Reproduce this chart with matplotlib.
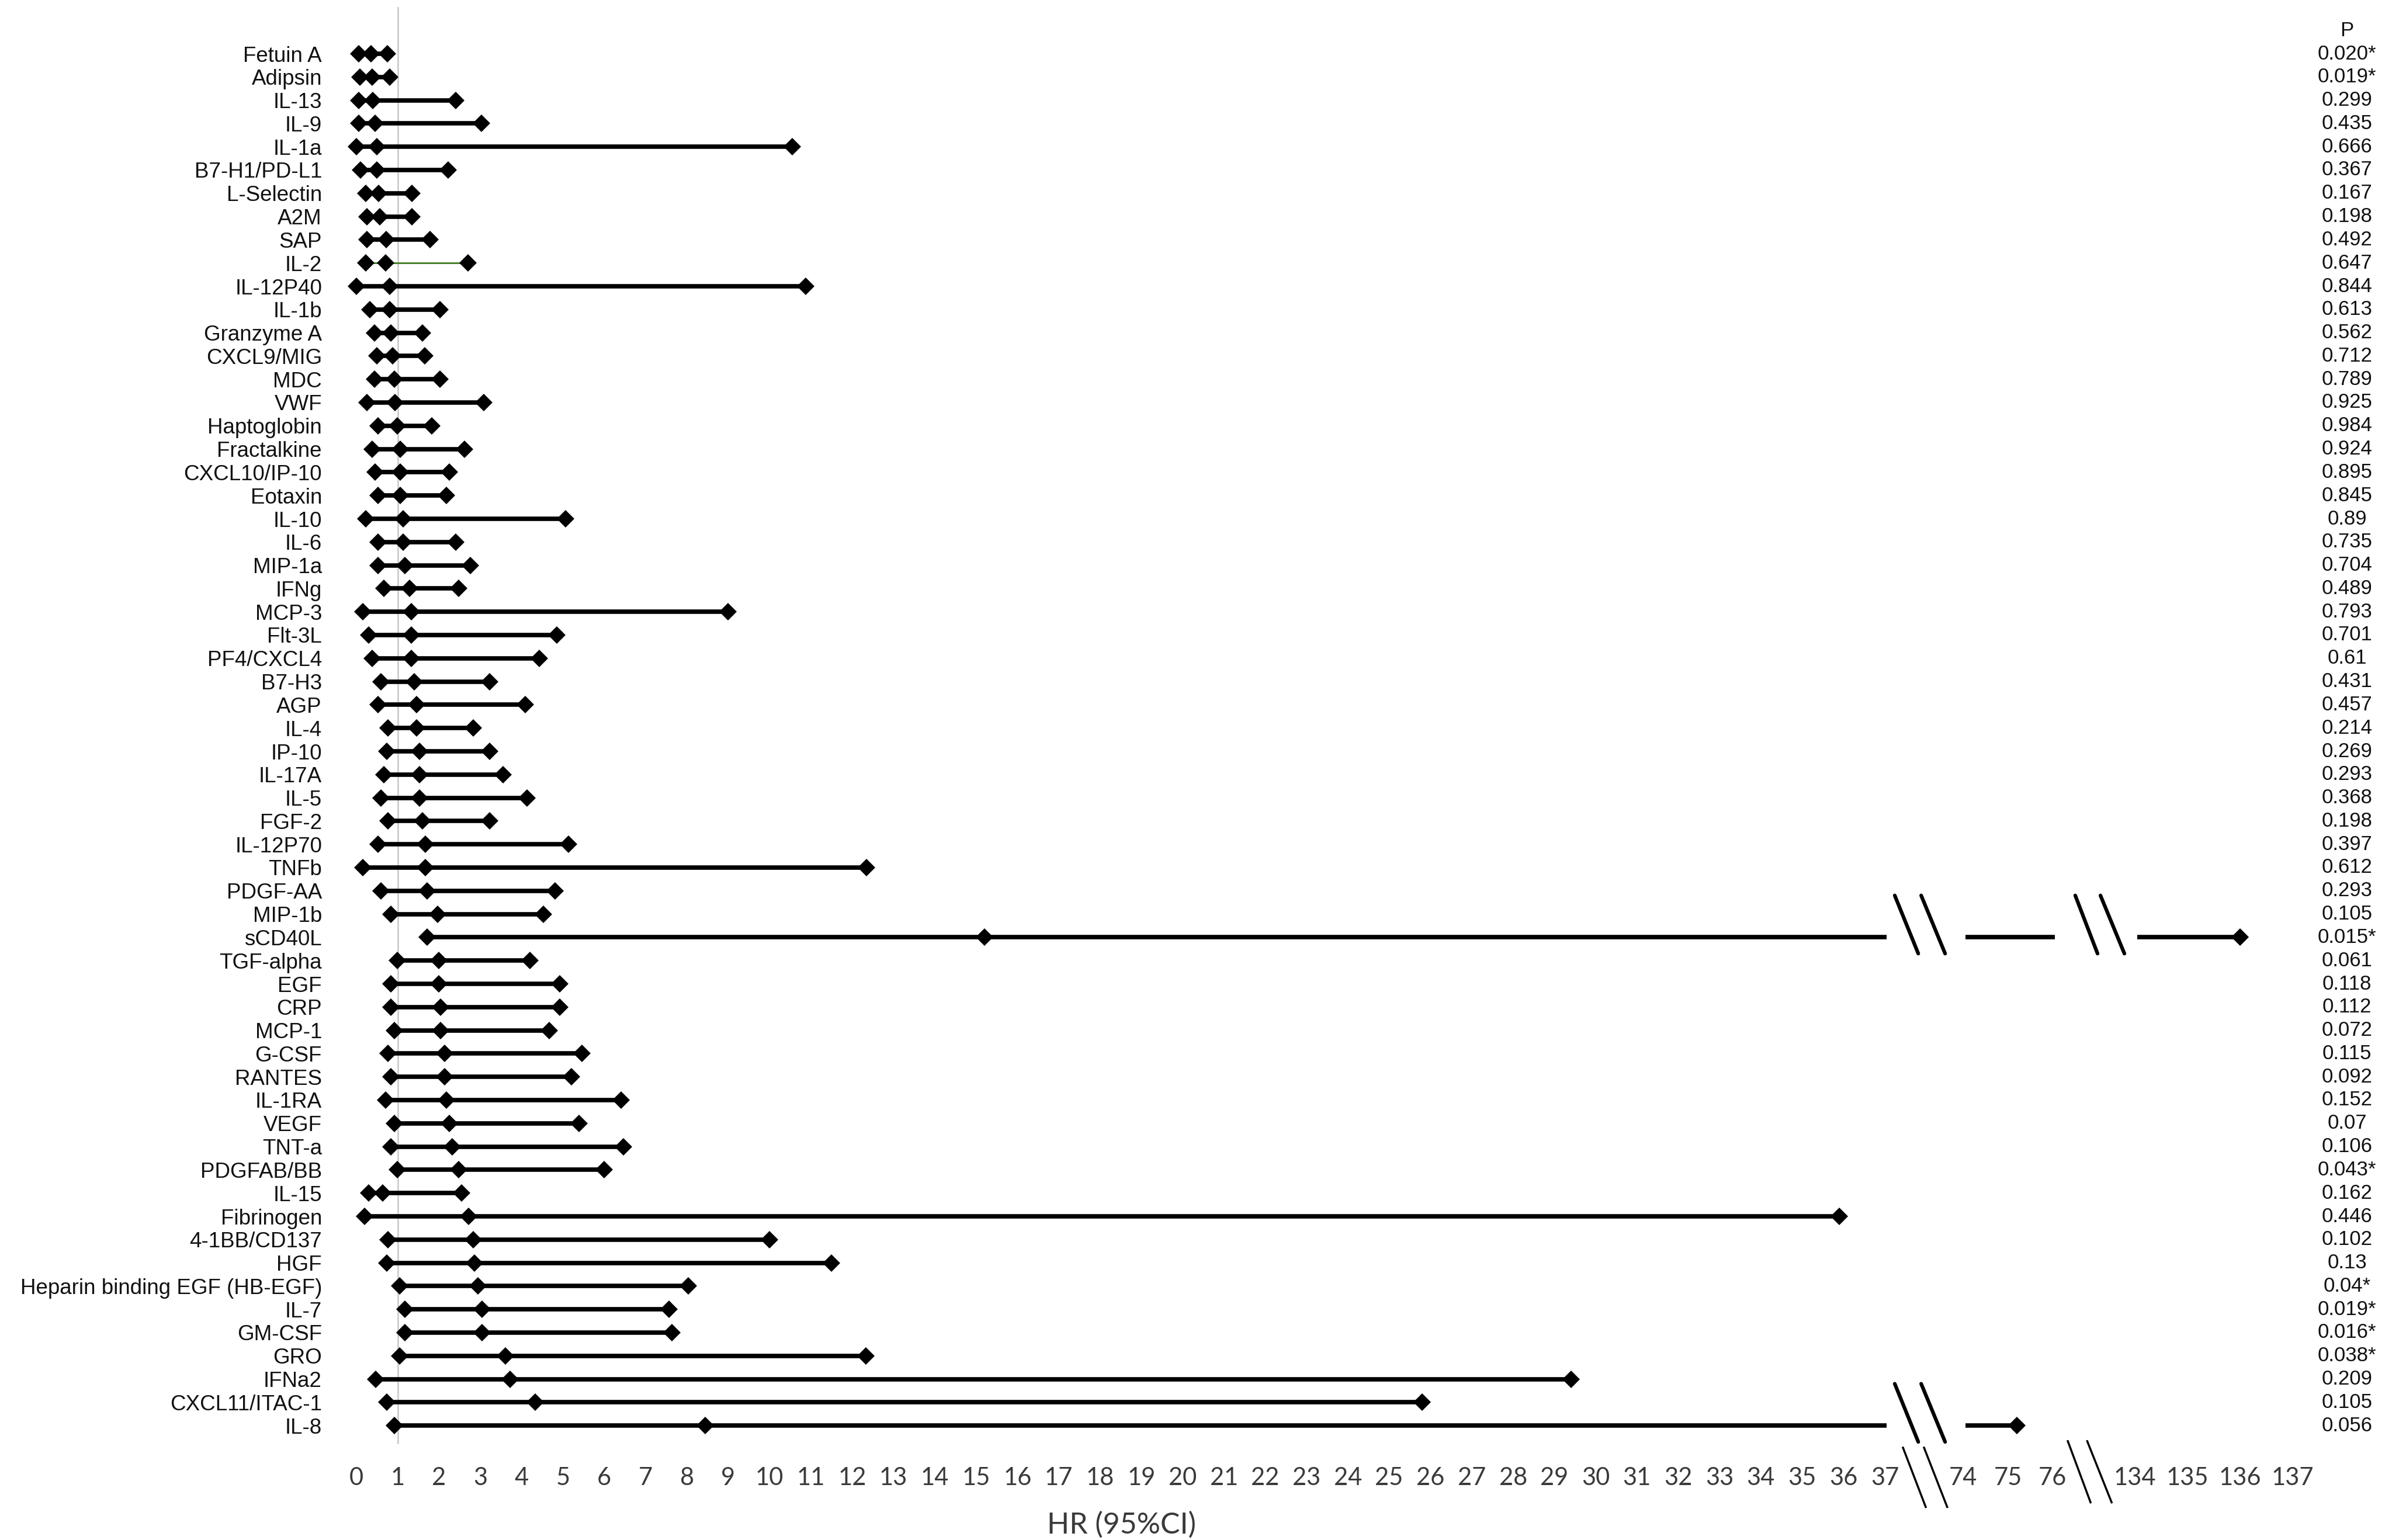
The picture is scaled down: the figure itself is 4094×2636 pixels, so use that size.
import numpy as np
import matplotlib
matplotlib.use("Agg")
import matplotlib.pyplot as plt
from matplotlib.transforms import blended_transform_factory

# markers, top to bottom
markers = ["Fetuin A", "Adipsin", "IL-13", "IL-9", "IL-1a", "B7-H1/PD-L1", "L-Selectin",
           "A2M", "SAP", "IL-2", "IL-12P40", "IL-1b", "Granzyme A", "CXCL9/MIG", "MDC",
           "VWF", "Haptoglobin", "Fractalkine", "CXCL10/IP-10", "Eotaxin", "IL-10", "IL-6",
           "MIP-1a", "IFNg", "MCP-3", "Flt-3L", "PF4/CXCL4", "B7-H3", "AGP", "IL-4", "IP-10",
           "IL-17A", "IL-5", "FGF-2", "IL-12P70", "TNFb", "PDGF-AA", "MIP-1b", "sCD40L",
           "TGF-alpha", "EGF", "CRP", "MCP-1", "G-CSF", "RANTES", "IL-1RA", "VEGF", "TNT-a",
           "PDGFAB/BB", "IL-15", "Fibrinogen", "4-1BB/CD137", "HGF",
           "Heparin binding EGF (HB-EGF)", "IL-7", "GM-CSF", "GRO", "IFNa2", "CXCL11/ITAC-1",
           "IL-8"]

hr_low = [0.05, 0.08, 0.06, 0.06, 0.0, 0.1, 0.22, 0.25, 0.25, 0.22, 0.0, 0.33, 0.44, 0.5,
          0.44, 0.25, 0.52, 0.38, 0.45, 0.52, 0.23, 0.52, 0.52, 0.66, 0.16, 0.3, 0.38, 0.59,
          0.52, 0.77, 0.74, 0.66, 0.59, 0.77, 0.52, 0.16, 0.59, 0.84, 1.71, 0.99, 0.84, 0.84,
          0.92, 0.77, 0.84, 0.7, 0.92, 0.84, 0.99, 0.3, 0.2, 0.77, 0.74, 1.04, 1.18, 1.18,
          1.04, 0.47, 0.74, 0.92]
hr_mid = [0.35, 0.38, 0.39, 0.45, 0.5, 0.5, 0.54, 0.56, 0.72, 0.7, 0.81, 0.81, 0.83, 0.87,
          0.92, 0.94, 0.99, 1.06, 1.06, 1.06, 1.13, 1.13, 1.18, 1.28, 1.33, 1.33, 1.33, 1.4,
          1.46, 1.46, 1.53, 1.53, 1.53, 1.6, 1.67, 1.67, 1.71, 1.96, 15.2, 2.0, 2.0, 2.03,
          2.03, 2.14, 2.14, 2.18, 2.25, 2.32, 2.47, 0.63, 2.72, 2.83, 2.86, 2.94, 3.04, 3.04,
          3.6, 3.72, 4.33, 8.45]
hr_high = [0.75, 0.8, 2.41, 3.03, 10.55, 2.22, 1.35, 1.35, 1.78, 2.7, 10.87, 2.02, 1.6,
           1.65, 2.02, 3.08, 1.82, 2.61, 2.25, 2.18, 5.07, 2.4, 2.76, 2.47, 9.0, 4.85, 4.42,
           3.23, 4.09, 2.83, 3.23, 3.55, 4.13, 3.23, 5.14, 12.35, 4.81, 4.52, 136.0, 4.2,
           4.92, 4.92, 4.67, 5.46, 5.21, 6.4, 5.39, 6.47, 6.0, 2.54, 35.9, 10.0, 11.5, 8.04,
           7.57, 7.64, 12.33, 29.4, 25.8, 75.2]
p_values = ["0.020*", "0.019*", "0.299", "0.435", "0.666", "0.367", "0.167", "0.198",
            "0.492", "0.647", "0.844", "0.613", "0.562", "0.712", "0.789", "0.925", "0.984",
            "0.924", "0.895", "0.845", "0.89", "0.735", "0.704", "0.489", "0.793", "0.701",
            "0.61", "0.431", "0.457", "0.214", "0.269", "0.293", "0.368", "0.198", "0.397",
            "0.612", "0.293", "0.105", "0.015*", "0.061", "0.118", "0.112", "0.072", "0.115",
            "0.092", "0.152", "0.07", "0.106", "0.043*", "0.162", "0.446", "0.102", "0.13",
            "0.04*", "0.019*", "0.016*", "0.038*", "0.209", "0.105", "0.056"]

x_ticks = list(range(38)) + [74, 75, 76, 134, 135, 136, 137]

# broken x axis: HR value -> plot position (1 unit per HR up to 37)
axis_hr = [-5, 37.3, 73.5, 76.6, 133.6, 140]
axis_pos = [-5, 37.3, 38.36, 41.71, 42.54, 50.69]
visible = [(-5, 37.05), (74.05, 76.05), (134.05, 140)]


def fwd(x):
    return np.interp(x, axis_hr, axis_pos)


def inv(p):
    return np.interp(p, axis_pos, axis_hr)


W, H = 4094, 2636
fig = plt.figure(figsize=(W / 100, H / 100), dpi=100)
ax = fig.add_axes([551 / W, (H - 2480) / H, 3488 / W, (2480 - 12.4) / H])
ax.set_xscale("function", functions=(fwd, inv))

ax.axvline(1, ymin=0.004, ymax=1, color="#cccccc", lw=2, zorder=1)

for i in range(len(markers)):
    lo, mid, hi = hr_low[i], hr_mid[i], hr_high[i]
    col, lw = "black", 5.5
    if markers[i] == "IL-2":
        col, lw = "#3f7a22", 2.0
    for a, b in visible:
        s, e = max(lo, a), min(hi, b)
        if e > s:
            ax.plot([s, e], [i, i], color=col, lw=lw, solid_capstyle="butt", zorder=2)
    ax.plot([lo, mid, hi], [i, i, i], "D", ms=15, mew=0, color="black", zorder=3)

    # break marks on rows running past the cut
    cuts = []
    if hi > visible[0][1]:
        cuts += [(37.24, 37.81), (37.88, 38.46)]
    if hi > visible[1][1]:
        cuts += [(41.61, 42.15), (42.22, 42.80)]
    for p0, p1 in cuts:
        ax.plot(inv([p0, p1]), [i - 1.8, i + 0.7], color="black", lw=4.5, zorder=3,
                solid_capstyle="round")

# break marks on the axis
for p0, p1, y0, y1 in [(37.44, 37.99, 59.95, 62.5), (37.95, 38.51, 59.95, 62.5),
                       (41.43, 41.98, 59.67, 62.3), (41.90, 42.49, 59.67, 62.3)]:
    ax.plot(inv([p0, p1]), [y0, y1], color="black", lw=2.5, clip_on=False, zorder=3)

ax.set_xlim(inv(-0.835), inv(48.5))
ax.set_ylim(60.0, -2.0)

ax.set_yticks(range(len(markers)))
ax.set_yticklabels(markers, fontsize=26.5, family="Liberation Sans", color="#111111")
ax.set_xticks(x_ticks)
ax.set_xticklabels([str(t) for t in x_ticks], fontsize=30, family="Lato", color="#3a3a3a")
ax.tick_params(axis="y", length=0, pad=0)
ax.tick_params(axis="x", length=0, pad=22)
for s in ax.spines.values():
    s.set_visible(False)

ax.set_xlabel("HR (95%CI)", fontsize=36, family="Lato", color="#3a3a3a", va="center")
ax.xaxis.set_label_coords((1920 - 551) / 3488, -130 / (2480 - 12.4))

# P column
tr = blended_transform_factory(fig.transFigure, ax.transData)
ax.text(4017 / W, -1.0, "P", transform=tr, ha="center", va="center", fontsize=25,
        family="Liberation Sans", color="#111111")
for i, p in enumerate(p_values):
    ax.text(4017 / W, i, p, transform=tr, ha="center", va="center", fontsize=25,
            family="Liberation Sans", color="#111111")

fig.savefig("out.png", dpi=100, facecolor="white")
